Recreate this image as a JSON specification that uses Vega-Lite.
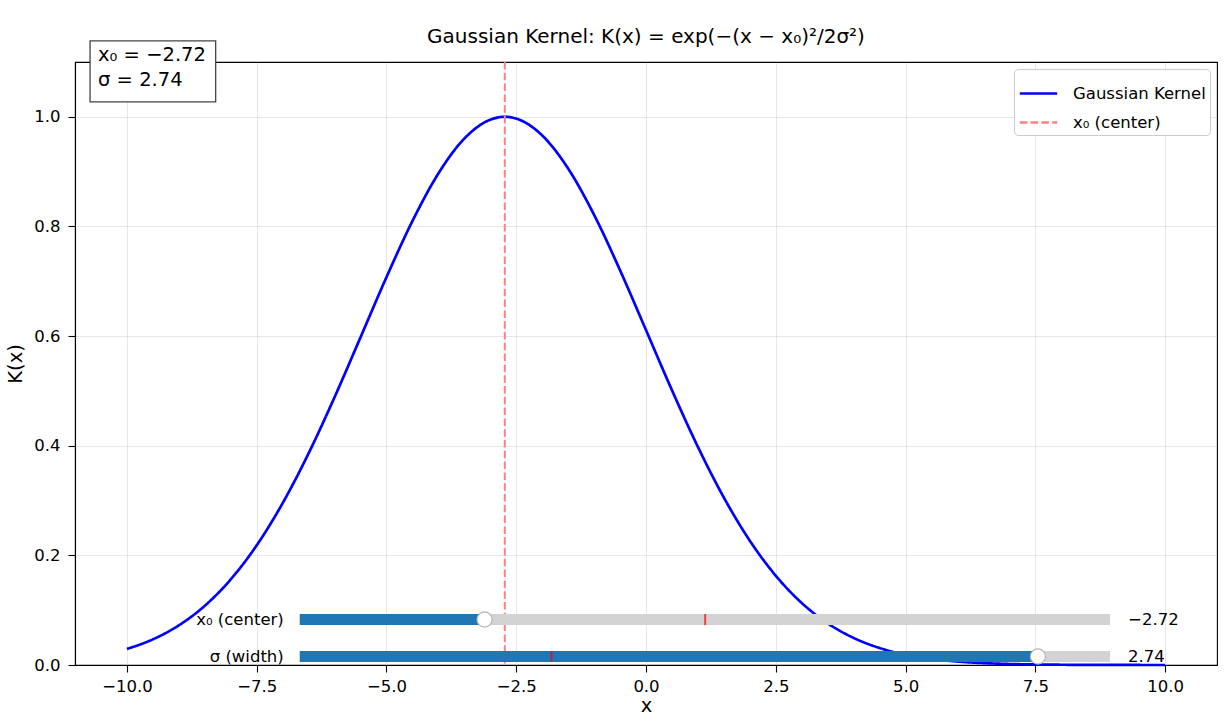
{
  "$schema": "https://vega.github.io/schema/vega-lite/v6.json",
  "width": 1142,
  "height": 603,
  "autosize": {"type": "none"},
  "padding": {"left": 75, "top": 62, "right": 12, "bottom": 51},
  "background": "white",
  "title": {"text": "Gaussian Kernel: K(x) = exp(−(x − x₀)²/2σ²)", "font": "DejaVu Sans", "fontSize": 20, "fontWeight": "normal", "color": "black", "offset": -7, "anchor": "middle", "frame": "group"},
  "config": {
    "view": {"stroke": "black", "strokeWidth": 1.1},
    "axis": {"labelFont": "DejaVu Sans", "labelFontSize": 16.5, "labelColor": "black", "tickColor": "black", "tickSize": 7, "tickWidth": 1.1, "domainColor": "black", "domainWidth": 1.1, "titleFont": "DejaVu Sans", "titleFontSize": 19.5, "titleFontWeight": "normal", "titleColor": "black", "grid": true, "gridColor": "#b0b0b0", "gridOpacity": 0.3, "gridWidth": 1, "labelPadding": 6},
    "legend": {"orient": "top-right", "offset": 7, "padding": 4, "strokeColor": "#cccccc", "cornerRadius": 4, "fillColor": "white", "labelFont": "DejaVu Sans", "labelFontSize": 16.5, "labelColor": "black", "symbolType": "stroke", "symbolSize": 1400, "symbolStrokeWidth": 2.7, "rowPadding": 0, "labelOffset": 14}
  },
  "datasets": {
    "curve": [
      {"x": -10, "k": 0.02931}, {"x": -9.5, "k": 0.04681}, {"x": -9, "k": 0.07232}, {"x": -8.5, "k": 0.10807},
      {"x": -8, "k": 0.15617}, {"x": -7.5, "k": 0.21834}, {"x": -7, "k": 0.29523}, {"x": -6.5, "k": 0.38612},
      {"x": -6, "k": 0.48846}, {"x": -5.5, "k": 0.59768}, {"x": -5, "k": 0.70738}, {"x": -4.5, "k": 0.80977},
      {"x": -4, "k": 0.89663}, {"x": -3.5, "k": 0.96029}, {"x": -3, "k": 0.99479}, {"x": -2.72, "k": 1.0},
      {"x": -2.5, "k": 0.99678}, {"x": -2, "k": 0.96606}, {"x": -1.5, "k": 0.90563}, {"x": -1, "k": 0.82117},
      {"x": -0.5, "k": 0.72017}, {"x": 0, "k": 0.61096}, {"x": 0.5, "k": 0.50131}, {"x": 1, "k": 0.39789},
      {"x": 1.5, "k": 0.30541}, {"x": 2, "k": 0.22677}, {"x": 2.5, "k": 0.16288}, {"x": 3, "k": 0.11315},
      {"x": 3.5, "k": 0.07603}, {"x": 4, "k": 0.0494}, {"x": 4.5, "k": 0.03106}, {"x": 5, "k": 0.01888},
      {"x": 5.5, "k": 0.01111}, {"x": 6, "k": 0.00632}, {"x": 6.5, "k": 0.00348}, {"x": 7, "k": 0.00185},
      {"x": 7.5, "k": 0.000953}, {"x": 8, "k": 0.000474}, {"x": 8.5, "k": 0.000229}, {"x": 9, "k": 0.000106},
      {"x": 9.5, "k": 0.000048}, {"x": 10, "k": 0.000021}
    ],
    "center": [{"x0": -2.72, "series": "x₀ (center)"}],
    "sliders": [
      {"label": "x₀ (center)", "y": 0.0829, "start": -6.67, "end": 8.94, "handle": -3.11, "init": 1.14, "value": "−2.72"},
      {"label": "σ (width)", "y": 0.0155, "start": -6.67, "end": 8.94, "handle": 7.55, "init": -1.82, "value": "2.74"}
    ],
    "box": [{"x1": -10.71, "x2": -8.29, "y1": 1.0273, "y2": 1.1384, "text": "x₀ = −2.72\nσ = 2.74"}]
  },
  "layer": [
    {
      "data": {"name": "curve"},
      "transform": [{"calculate": "'Gaussian Kernel'", "as": "series"}],
      "mark": {"type": "line", "strokeWidth": 2.7, "interpolate": "monotone"},
      "encoding": {
        "x": {"field": "x", "type": "quantitative", "scale": {"domain": [-11, 11], "nice": false, "zero": false}, "axis": {"values": [-10, -7.5, -5, -2.5, 0, 2.5, 5, 7.5, 10], "format": ".1f", "labelExpr": "replace(datum.label, '-', '−')", "title": "x", "titlePadding": 2}},
        "y": {"field": "k", "type": "quantitative", "scale": {"domain": [0, 1.1], "nice": false, "zero": false}, "axis": {"values": [0, 0.2, 0.4, 0.6, 0.8, 1.0], "format": ".1f", "title": "K(x)", "titlePadding": 8, "labelPadding": 8}},
        "color": {"field": "series", "type": "nominal", "scale": {"domain": ["Gaussian Kernel", "x₀ (center)"], "range": ["#0000ff", "#ff8080"]}, "legend": {"title": null}},
        "strokeDash": {"field": "series", "type": "nominal", "scale": {"domain": ["Gaussian Kernel", "x₀ (center)"], "range": [[1, 0], [7.5, 3.3]]}, "legend": {"title": null}}
      }
    },
    {
      "data": {"name": "center"},
      "mark": {"type": "rule", "strokeWidth": 2},
      "encoding": {
        "x": {"field": "x0", "type": "quantitative"},
        "color": {"field": "series", "type": "nominal"},
        "strokeDash": {"field": "series", "type": "nominal"}
      }
    },
    {
      "data": {"name": "sliders"},
      "mark": {"type": "rule", "strokeWidth": 11, "strokeCap": "butt", "color": "#d3d3d3"},
      "encoding": {"x": {"field": "start", "type": "quantitative"}, "x2": {"field": "end"}, "y": {"field": "y", "type": "quantitative"}}
    },
    {
      "data": {"name": "sliders"},
      "mark": {"type": "rule", "strokeWidth": 11, "strokeCap": "butt", "color": "#1f77b4"},
      "encoding": {"x": {"field": "start", "type": "quantitative"}, "x2": {"field": "handle"}, "y": {"field": "y", "type": "quantitative"}}
    },
    {
      "data": {"name": "sliders"},
      "mark": {"type": "tick", "orient": "vertical", "size": 11, "thickness": 2, "color": "red"},
      "encoding": {"x": {"field": "init", "type": "quantitative"}, "y": {"field": "y", "type": "quantitative"}}
    },
    {
      "data": {"name": "sliders"},
      "mark": {"type": "point", "filled": true, "fill": "white", "stroke": "#b5b5b5", "strokeWidth": 1.2, "size": 230, "opacity": 1},
      "encoding": {"x": {"field": "handle", "type": "quantitative"}, "y": {"field": "y", "type": "quantitative"}}
    },
    {
      "data": {"name": "sliders"},
      "mark": {"type": "text", "align": "right", "baseline": "middle", "dx": -16, "font": "DejaVu Sans", "fontSize": 16.5, "color": "black"},
      "encoding": {"x": {"field": "start", "type": "quantitative"}, "y": {"field": "y", "type": "quantitative"}, "text": {"field": "label"}}
    },
    {
      "data": {"name": "sliders"},
      "mark": {"type": "text", "align": "left", "baseline": "middle", "dx": 18, "font": "DejaVu Sans", "fontSize": 16.5, "color": "black"},
      "encoding": {"x": {"field": "end", "type": "quantitative"}, "y": {"field": "y", "type": "quantitative"}, "text": {"field": "value"}}
    },
    {
      "data": {"name": "box"},
      "mark": {"type": "rect", "fill": "white", "stroke": "#444444", "strokeWidth": 1.3},
      "encoding": {"x": {"field": "x1", "type": "quantitative"}, "x2": {"field": "x2"}, "y": {"field": "y1", "type": "quantitative"}, "y2": {"field": "y2"}}
    },
    {
      "data": {"name": "box"},
      "mark": {"type": "text", "align": "left", "baseline": "top", "dx": 8, "dy": 5, "font": "DejaVu Sans", "fontSize": 19.5, "lineHeight": 25, "lineBreak": "\n", "color": "black"},
      "encoding": {"x": {"field": "x1", "type": "quantitative"}, "y": {"field": "y2", "type": "quantitative"}, "text": {"field": "text"}}
    }
  ]
}
